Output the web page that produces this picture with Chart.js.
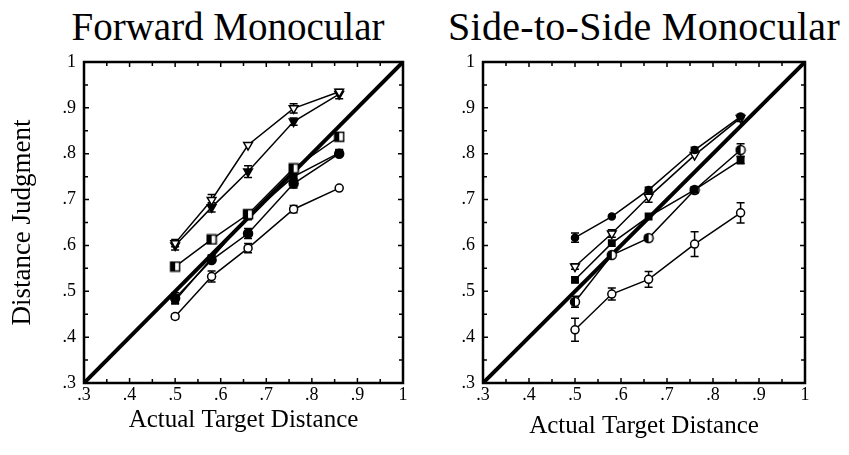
<!DOCTYPE html>
<html>
<head>
<meta charset="utf-8">
<script src="https://cdn.jsdelivr.net/npm/chart.js@4"></script>
<style>
  html, body { margin: 0; padding: 0; background: #fff; }
  #wrap { position: relative; width: 849px; height: 455px; overflow: hidden; }
  canvas { position: absolute; top: 0; }
  .title { position: absolute; top: 8px; font-family: 'Liberation Serif', serif; font-size: 39px;
           line-height: 38px; color: #000; text-align: center; white-space: nowrap; }
</style>
</head>
<body>
<div id="wrap">
  <div class="title" style="left:28px;width:400px">Forward Monocular</div>
  <div class="title" style="left:344px;width:600px;font-size:40px;letter-spacing:0.3px">Side-to-Side Monocular</div>
  <canvas id="left" width="430" height="455" style="left:0"></canvas>
  <canvas id="right" width="419" height="455" style="left:430px"></canvas>
</div>
<script>
// actual target distances (x) shared by every condition
const targetDistance = [0.5, 0.58, 0.66, 0.76, 0.86];
const tickValues = [0.3, 0.4, 0.5, 0.6, 0.7, 0.8, 0.9, 1];
const tickLabels = ['.3', '.4', '.5', '.6', '.7', '.8', '.9', '1'];
const identity = [0.3, 1];

// Forward Monocular - judged distance and error (0 = no bar)
const fwdOpenTri = [0.605, 0.699, 0.819, 0.899, 0.935];
const fwdOpenTriErr = [0.008, 0.012, 0, 0.01, 0];
const fwdFillTri = [0.600, 0.683, 0.761, 0.870, 0.930];
const fwdFillTriErr = [0.01, 0.01, 0.013, 0.008, 0.01];
const fwdHalfSq = [0.554, 0.613, 0.668, 0.768, 0.837];
const fwdHalfSqErr = [0.006, 0, 0.008, 0.006, 0];
const fwdFillSq = [0.480, 0.572, 0.663, 0.750, 0.802];
const fwdFillSqErr = [0, 0.006, 0, 0.008, 0.006];
const fwdFillCirc = [0.485, 0.568, 0.626, 0.735, 0.800];
const fwdFillCircErr = [0.012, 0, 0.011, 0.01, 0];
const fwdOpenCirc = [0.445, 0.532, 0.594, 0.679, 0.725];
const fwdOpenCircErr = [0.005, 0.012, 0.01, 0.008, 0];

// Side-to-Side Monocular
const sideFillDot = [0.617, 0.663, 0.721, 0.808, 0.881];
const sideFillDotErr = [0.01, 0, 0.006, 0.006, 0];
const sideOpenTri = [0.554, 0.626, 0.706, 0.797, 0.878];
const sideOpenTriErr = [0.006, 0.008, 0.012, 0, 0.008];
const sideFillSq = [0.525, 0.605, 0.663, 0.721, 0.786];
const sideFillSqErr = [0.006, 0, 0, 0.006, 0.008];
const sideHalfCirc = [0.477, 0.579, 0.616, 0.721, 0.808];
const sideHalfCircErr = [0.012, 0, 0.006, 0, 0.014];
const sideOpenCirc = [0.416, 0.494, 0.526, 0.603, 0.671];
const sideOpenCircErr = [0.025, 0.013, 0.017, 0.027, 0.022];

const serif = "'Liberation Serif', serif";

function halfMarker(shape) {
  const c = document.createElement('canvas');
  c.width = c.height = 12;
  const g = c.getContext('2d');
  g.beginPath();
  if (shape === 'rect') g.rect(1.5, 1.5, 9, 9); else g.arc(6, 6, 4.5, 0, Math.PI * 2);
  g.fillStyle = '#fff'; g.fill();
  g.save(); g.clip(); g.fillStyle = '#000'; g.fillRect(0, 0, 6, 12); g.restore();
  g.lineWidth = 1.5; g.strokeStyle = '#000'; g.stroke();
  return c;
}

const markers = {
  openTri: { pointStyle: 'triangle', pointRotation: 180, pointRadius: 5, pointBackgroundColor: '#fff' },
  fillTri: { pointStyle: 'triangle', pointRotation: 180, pointRadius: 5, pointBackgroundColor: '#000' },
  halfSq: { pointStyle: halfMarker('rect'), pointRadius: 5 },
  halfCirc: { pointStyle: halfMarker('circle'), pointRadius: 5 },
  fillSq: { pointStyle: 'rect', pointRadius: 4.5, pointBackgroundColor: '#000' },
  fillCirc: { pointStyle: 'circle', pointRadius: 4.5, pointBackgroundColor: '#000' },
  fillDot: { pointStyle: 'circle', pointRadius: 3.5, pointBackgroundColor: '#000' },
  openCirc: { pointStyle: 'circle', pointRadius: 4, pointBackgroundColor: '#fff' }
};

function series(values, errors, marker) {
  return Object.assign({
    data: values.map((v, i) => ({ x: targetDistance[i], y: v })),
    errors: errors,
    borderColor: '#000',
    borderWidth: 1.5,
    pointBorderColor: '#000',
    pointBorderWidth: 1.5,
    showLine: true
  }, markers[marker]);
}

function identityLine() {
  return {
    data: identity.map(v => ({ x: v, y: v })),
    borderColor: '#000',
    borderWidth: 4,
    pointRadius: 0,
    showLine: true
  };
}

// error bars, drawn under the markers
const errorBars = {
  id: 'errorBars',
  beforeDatasetsDraw(chart) {
    const { ctx, scales: { x, y } } = chart;
    ctx.save();
    ctx.strokeStyle = '#000';
    ctx.lineWidth = 1.5;
    chart.data.datasets.forEach(ds => {
      if (!ds.errors) return;
      ds.data.forEach((p, i) => {
        const e = ds.errors[i];
        if (!e) return;
        const px = x.getPixelForValue(p.x);
        const top = y.getPixelForValue(p.y + e);
        const bot = y.getPixelForValue(p.y - e);
        ctx.beginPath();
        ctx.moveTo(px, top); ctx.lineTo(px, bot);
        ctx.moveTo(px - 4, top); ctx.lineTo(px + 4, top);
        ctx.moveTo(px - 4, bot); ctx.lineTo(px + 4, bot);
        ctx.stroke();
      });
    });
    ctx.restore();
  }
};

// box frame with inward ticks every .05 on all four sides
const frame = {
  id: 'frame',
  afterDatasetsDraw(chart) {
    const { ctx, chartArea: a, scales: { x, y } } = chart;
    ctx.save();
    ctx.strokeStyle = '#000';
    ctx.lineWidth = 1.5;
    ctx.beginPath();
    for (let i = 1; i < 14; i++) {
      const v = 0.3 + i * 0.05;
      const len = i % 2 === 0 ? 5 : 4;
      const px = x.getPixelForValue(v), py = y.getPixelForValue(v);
      ctx.moveTo(a.left, py); ctx.lineTo(a.left + len, py);
      ctx.moveTo(a.right, py); ctx.lineTo(a.right - len, py);
      ctx.moveTo(px, a.bottom); ctx.lineTo(px, a.bottom - len);
      ctx.moveTo(px, a.top); ctx.lineTo(px, a.top + len);
    }
    ctx.stroke();
    ctx.lineWidth = 2.5;
    ctx.strokeRect(a.left, a.top, a.width, a.height);
    ctx.restore();
  }
};

function axis(width, height, titleText, titleSize, titlePad, isY) {
  const o = {
    type: 'linear',
    min: 0.3,
    max: 1,
    grid: { display: false, drawTicks: false },
    border: { display: false },
    afterBuildTicks: s => { s.ticks = tickValues.map(v => ({ value: v })); },
    ticks: {
      color: '#000',
      font: { family: serif, size: 18 },
      padding: isY ? 8 : 1,
      autoSkip: false,
      maxRotation: 0,
      callback: (v, i) => tickLabels[i]
    },
    title: {
      display: !!titleText,
      text: titleText,
      color: '#000',
      font: { family: serif, size: titleSize },
      padding: titlePad
    }
  };
  o.afterFit = isY ? (s => { s.width = width; }) : (s => { s.height = height; });
  return o;
}

function makeChart(id, datasets, yWidth, rightPad, yTitle, xTitlePad) {
  return new Chart(document.getElementById(id), {
    type: 'scatter',
    data: { datasets: datasets.concat([identityLine()]) },
    options: {
      responsive: false,
      animation: false,
      layout: { padding: { top: 62, right: rightPad, left: 0, bottom: 0 } },
      plugins: { legend: { display: false }, tooltip: { enabled: false } },
      scales: {
        x: axis(0, 72, 'Actual Target Distance', 25, { top: 0, bottom: xTitlePad }, false),
        y: axis(yWidth, 0, yTitle, 27, { top: 7, bottom: 0 }, true)
      }
    },
    plugins: [errorBars, frame]
  });
}

makeChart('left', [
  series(fwdOpenTri, fwdOpenTriErr, 'openTri'),
  series(fwdFillTri, fwdFillTriErr, 'fillTri'),
  series(fwdHalfSq, fwdHalfSqErr, 'halfSq'),
  series(fwdFillSq, fwdFillSqErr, 'fillSq'),
  series(fwdFillCirc, fwdFillCircErr, 'fillCirc'),
  series(fwdOpenCirc, fwdOpenCircErr, 'openCirc')
], 84, 27, 'Distance Judgment', 20);

makeChart('right', [
  series(sideFillDot, sideFillDotErr, 'fillDot'),
  series(sideOpenTri, sideOpenTriErr, 'openTri'),
  series(sideFillSq, sideFillSqErr, 'fillSq'),
  series(sideHalfCirc, sideHalfCircErr, 'halfCirc'),
  series(sideOpenCirc, sideOpenCircErr, 'openCirc')
], 53, 44, '', 14);
</script>
</body>
</html>
